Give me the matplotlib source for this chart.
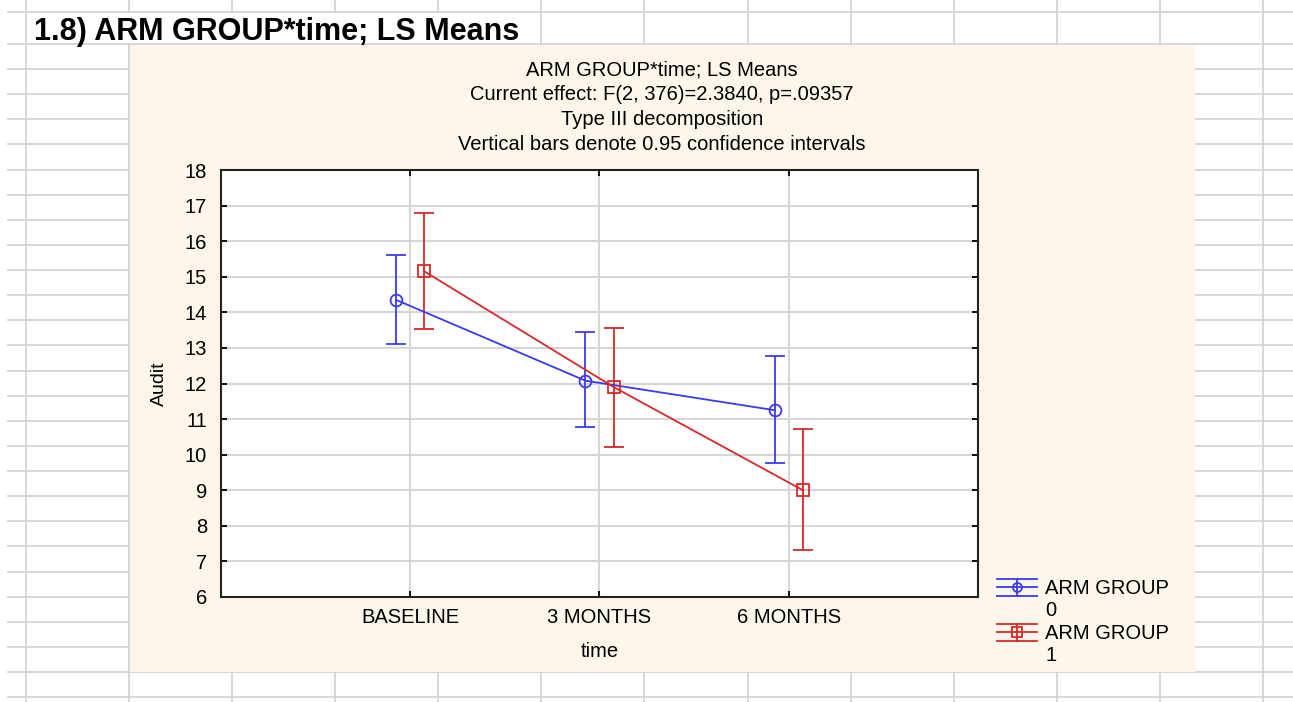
import numpy as np
import matplotlib.pyplot as plt
from matplotlib.lines import Line2D
from matplotlib.patches import Rectangle
from matplotlib.legend_handler import HandlerBase

plt.rcParams['font.family'] = ['Liberation Sans', 'DejaVu Sans']

# LS means and 0.95 confidence limits
time_labels = ['BASELINE', '3 MONTHS', '6 MONTHS']
group_names = ['ARM GROUP\n0', 'ARM GROUP\n1']

g0_mean = [14.35, 12.08, 11.25]
g0_low = [13.10, 10.77, 9.77]
g0_high = [15.62, 13.45, 12.77]

g1_mean = [15.15, 11.90, 9.00]
g1_low = [13.53, 10.22, 7.32]
g1_high = [16.80, 13.57, 10.72]

title_lines = [
    'ARM GROUP*time; LS Means',
    'Current effect: F(2, 376)=2.3840, p=.09357',
    'Type III decomposition',
    'Vertical bars denote 0.95 confidence intervals',
]

W, H = 1293, 702
BLUE = '#3a3af0'
RED = '#d82828'
CREAM = '#fdf6ea'
SHEET = '#d4d4d4'


class ErrHandler(HandlerBase):
    # legend key: three horizontal strokes, a vertical bar and the marker,
    # lifted so it sits beside the first line of a two-line label
    def create_artists(self, legend, orig, xd, yd, width, height, fontsize, trans):
        c = orig.get_color()
        x0, x1 = -xd, -xd + width
        xm = (x0 + x1) / 2
        ym = -yd + height / 2 + 0.62 * fontsize
        h = 6.2
        arts = [
            Line2D([x0, x1], [ym + h, ym + h]),
            Line2D([x0, x1], [ym, ym]),
            Line2D([x0, x1], [ym - h, ym - h]),
            Line2D([xm, xm], [ym - h, ym + h]),
        ]
        for a in arts:
            a.set_color(c)
            a.set_linewidth(1.3)
        mk = Line2D([xm], [ym], marker=orig.get_marker(), markersize=6.5,
                    mfc='none', mec=c, mew=1.3, linestyle='none')
        arts.append(mk)
        for a in arts:
            a.set_transform(trans)
        return arts


def main():
    fig = plt.figure(figsize=(W / 100, H / 100), dpi=100)
    fig.patch.set_facecolor('white')

    # spreadsheet behind the pasted chart
    bg = fig.add_axes([0, 0, 1, 1], zorder=0)
    bg.set_xlim(0, W)
    bg.set_ylim(H, 0)
    bg.axis('off')
    cols = 26 + 103.08 * np.arange(13)
    rows = np.concatenate([[12, 44], 44 + 25.12 * np.arange(1, 27)])
    for y in rows:
        bg.plot([8, W], [y, y], color=SHEET, lw=1.3)
    for x in cols:
        bg.plot([x, x], [0, 12], color=SHEET, lw=1.3)
        if x < 100 or x > 500:
            bg.plot([x, x], [12, 44], color=SHEET, lw=1.3)
        bg.plot([x, x], [44, H], color=SHEET, lw=1.3)
    bg.add_patch(Rectangle((130, 45), 1065, 627, facecolor=CREAM, edgecolor='none', zorder=5))
    bg.text(34, 40, '1.8) ARM GROUP*time; LS Means', fontsize=22, fontweight='bold',
            ha='left', va='baseline', color='black', zorder=6)
    for i, line in enumerate(title_lines):
        bg.text(662, 69.5 + 25 * i, line, fontsize=14.5, ha='center', va='center', zorder=6)

    ax = fig.add_axes([221 / W, 1 - 597 / H, (978 - 221) / W, (597 - 170) / H], zorder=2)
    ax.set_facecolor('white')
    x = np.arange(1, len(time_labels) + 1)

    series = [
        (g0_mean, g0_low, g0_high, BLUE, 'o', -0.075),
        (g1_mean, g1_low, g1_high, RED, 's', 0.075),
    ]
    handles = []
    for mean, lo, hi, col, mk, off in series:
        mean = np.array(mean)
        err = [mean - np.array(lo), np.array(hi) - mean]
        ax.errorbar(x + off, mean, yerr=err, color=col, lw=1.3, elinewidth=1.3,
                    capsize=7, capthick=1.3, marker=mk, markersize=8.5 if mk == 'o' else 8,
                    mfc='none', mec=col, mew=1.3, zorder=3)
        handles.append(Line2D([], [], color=col, marker=mk))

    ax.set_xlim(0, 4)
    ax.set_ylim(6, 18)
    ax.set_yticks(np.arange(6, 19, 1))
    ax.set_xticks(x)
    ax.set_xticklabels(time_labels)
    ax.grid(True, color='#d6d6d6', lw=1.5)
    ax.set_axisbelow(True)
    for s in ax.spines.values():
        s.set_color('#222222')
        s.set_linewidth(1.5)
    ax.tick_params(direction='in', length=4, width=1.3, top=True, right=True,
                   labelsize=14.5, pad=8)
    ax.tick_params(axis='y', pad=10)
    ax.set_xlabel('time', fontsize=14.5, labelpad=11)
    ax.set_ylabel('Audit', fontsize=14, labelpad=12)

    fig.legend(handles, group_names, handler_map={Line2D: ErrHandler()},
               loc='upper left', bbox_to_anchor=(997 / W, 1 - 579 / H), frameon=False,
               fontsize=14.5, handlelength=2.0, handletextpad=0.4, labelspacing=0.2,
               borderpad=0, borderaxespad=0)

    fig.savefig('out.png', dpi=100)


if __name__ == '__main__':
    main()
